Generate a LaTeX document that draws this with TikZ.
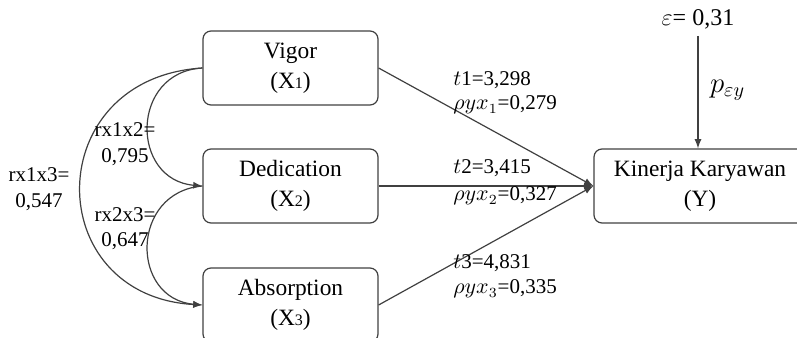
\documentclass[tikz,border=0pt]{standalone}
\usepackage{fontspec}
\setmainfont{Liberation Serif}
\usetikzlibrary{arrows}

\begin{document}
\begin{tikzpicture}[x=0.5pt, y=-0.5pt,
    var/.style={draw=black!75, line width=0.6pt, rounded corners=4pt,
      minimum width=87.5pt, minimum height=37pt, align=center,
      font=\rmfamily\fontsize{11.7}{15}\selectfont},
    path/.style={draw=black!75, line width=0.6pt, -latex},
    lbl/.style={font=\rmfamily\fontsize{10.5}{13}\selectfont, inner sep=0pt}]
  \useasboundingbox (0,0) rectangle (797,337);
  % variables
  \node[var] (x1) at (290.5,68) {Vigor\\(X{\footnotesize 1})};
  \node[var] (x2) at (290.5,186) {Dedication\\(X{\footnotesize 2})};
  \node[var] (x3) at (290.5,305) {Absorption\\(X{\footnotesize 3})};
  \node[var, minimum width=106pt] (y) at (700,186) {Kinerja Karyawan\\(Y)};
  \node[font=\rmfamily\fontsize{12}{15}\selectfont] (e) at (698,19) {$\varepsilon$= 0,31};
  % paths
  \draw[path] (x1.east) -- (y.west);
  \draw[path] (x2.east) -- (y.west);
  \draw[path] (x3.east) -- (y.west);
  \draw[path] (e.south) -- (y.north -| e.south);
  \node[anchor=west, font=\fontsize{14}{16}\selectfont] at (703,90) {$p_{\varepsilon y}$};
  % correlations
  \draw[path] (x1.west) .. controls (130,72) and (130,180) .. (x2.west);
  \draw[path] (x2.west) .. controls (130,192) and (130,299) .. (x3.west);
  \draw[path] (x1.west) .. controls (40,78) and (40,296) .. (x3.west);
  \node[lbl] at (125,130) {rx1x2=};
  \node[lbl] at (125,157) {0,795};
  \node[lbl] at (125,215) {rx2x3=};
  \node[lbl] at (125,241) {0,647};
  \node[lbl] at (39,175) {rx1x3=};
  \node[lbl] at (39,202) {0,547};
  % coefficients
  \node[lbl, anchor=west] at (453,80) {$t$1=3,298};
  \node[lbl, anchor=west] at (453,105) {$\rho y x_1$=0,279};
  \node[lbl, anchor=west] at (453,168) {$t$2=3,415};
  \node[lbl, anchor=west] at (453,196) {$\rho y x_2$=0,327};
  \node[lbl, anchor=west] at (453,263) {$t$3=4,831};
  \node[lbl, anchor=west] at (453,289) {$\rho y x_3$=0,335};
\end{tikzpicture}
\end{document}
